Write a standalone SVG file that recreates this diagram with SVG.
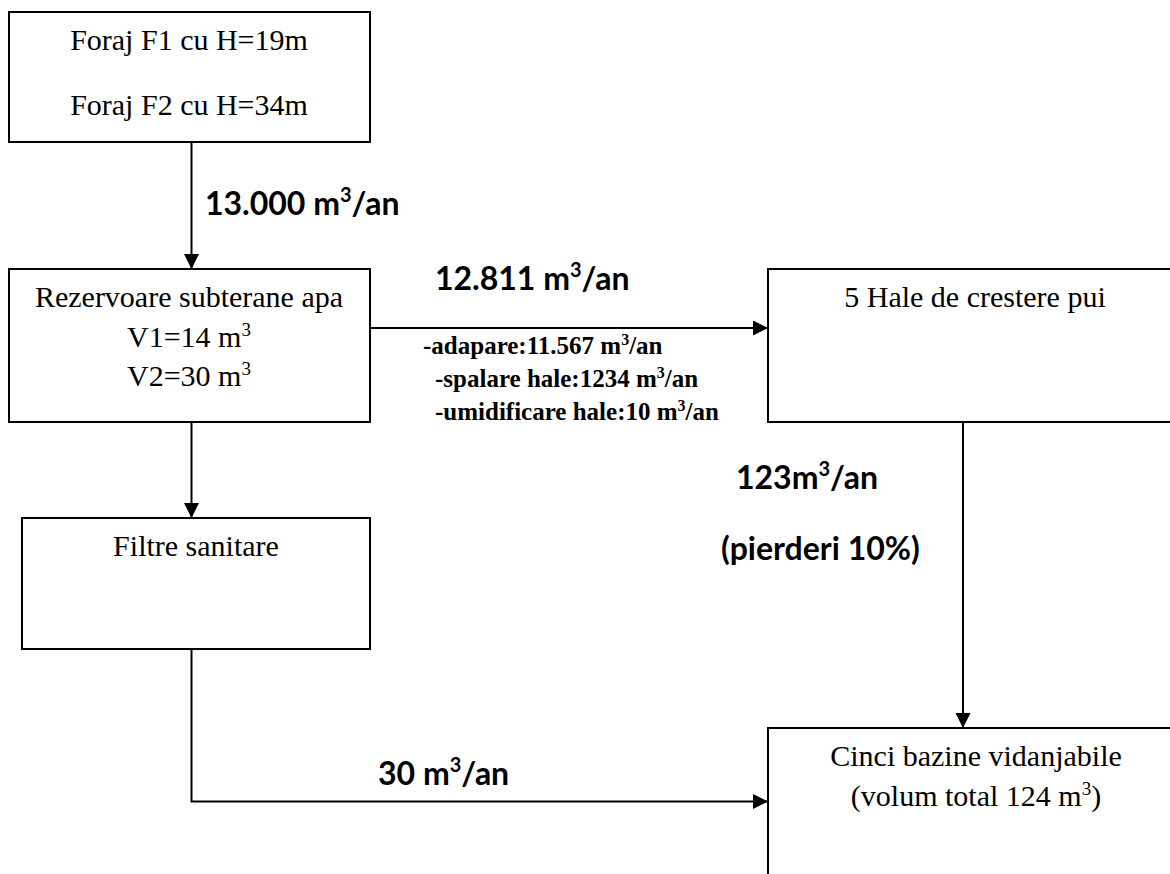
<svg xmlns="http://www.w3.org/2000/svg" width="1170" height="874" viewBox="0 0 1170 874">
<style>
.box{fill:#fff;stroke:#000;stroke-width:2}
.t{font-family:"Liberation Serif","Times New Roman",serif;font-size:30px;fill:#000;text-anchor:middle}
.s{font-family:"Liberation Serif","Times New Roman",serif;font-size:25px;font-weight:bold;fill:#000}
.b{font-family:Lato,"Open Sans",sans-serif;font-size:32px;font-weight:bold;fill:#000}
.c{fill:none;stroke:#000;stroke-width:2}
</style>
<defs>
<marker id="ah" markerUnits="userSpaceOnUse" markerWidth="16" markerHeight="16" refX="15" refY="7.5" orient="auto">
<path d="M0,0 L15,7.5 L0,15 z" fill="#000"/>
</marker>
</defs>
<rect width="1170" height="874" fill="#fff"/>
<g id="connectors">
<line class="c" x1="191.5" y1="142" x2="191.5" y2="269" marker-end="url(#ah)"/>
<line class="c" x1="370" y1="328" x2="768" y2="328" marker-end="url(#ah)"/>
<line class="c" x1="191.5" y1="422" x2="191.5" y2="518" marker-end="url(#ah)"/>
<line class="c" x1="963" y1="422" x2="963" y2="728" marker-end="url(#ah)"/>
<path class="c" d="M191.5,649 V801.5 H768" marker-end="url(#ah)"/>
</g>
<g id="node-foraj">
<rect class="box" x="9" y="12" width="361" height="130"/>
<text class="t" x="189" y="50">Foraj F1 cu H=19m</text>
<text class="t" x="189" y="115">Foraj F2 cu H=34m</text>
</g>
<g id="node-rezervoare">
<rect class="box" x="9" y="269" width="361" height="153"/>
<text class="t" x="189" y="307">Rezervoare subterane apa</text>
<text class="t" x="189" y="347">V1=14 m<tspan font-size="19" dy="-11">3</tspan></text>
<text class="t" x="189" y="386">V2=30 m<tspan font-size="19" dy="-11">3</tspan></text>
</g>
<g id="node-filtre">
<rect class="box" x="22" y="518" width="348" height="131"/>
<text class="t" x="196" y="556">Filtre sanitare</text>
</g>
<g id="node-hale">
<rect class="box" x="768" y="269" width="420" height="153"/>
<text class="t" x="975" y="307">5 Hale de crestere pui</text>
</g>
<g id="node-bazine">
<rect class="box" x="768" y="728" width="420" height="200"/>
<text class="t" x="976" y="766">Cinci bazine vidanjabile</text>
<text class="t" x="976" y="806">(volum total 124 m<tspan font-size="19" dy="-11">3</tspan><tspan dy="11">)</tspan></text>
</g>
<g id="labels">
<text class="b" x="205" y="215">13.000 m<tspan font-size="20" dy="-13">3</tspan><tspan dy="13">/an</tspan></text>
<text class="b" x="435" y="290">12.811 m<tspan font-size="20" dy="-13">3</tspan><tspan dy="13">/an</tspan></text>
<text class="s" x="423" y="354">-adapare:11.567 m<tspan font-size="16" dy="-9">3</tspan><tspan dy="9">/an</tspan></text>
<text class="s" x="435" y="387">-spalare hale:1234 m<tspan font-size="16" dy="-9">3</tspan><tspan dy="9">/an</tspan></text>
<text class="s" x="435" y="420">-umidificare hale:10 m<tspan font-size="16" dy="-9">3</tspan><tspan dy="9">/an</tspan></text>
<text class="b" x="736" y="489">123m<tspan font-size="20" dy="-13">3</tspan><tspan dy="13">/an</tspan></text>
<text class="b" x="721" y="560">(pierderi 10%)</text>
<text class="b" x="378" y="785">30 m<tspan font-size="20" dy="-13">3</tspan><tspan dy="13">/an</tspan></text>
</g>
</svg>
